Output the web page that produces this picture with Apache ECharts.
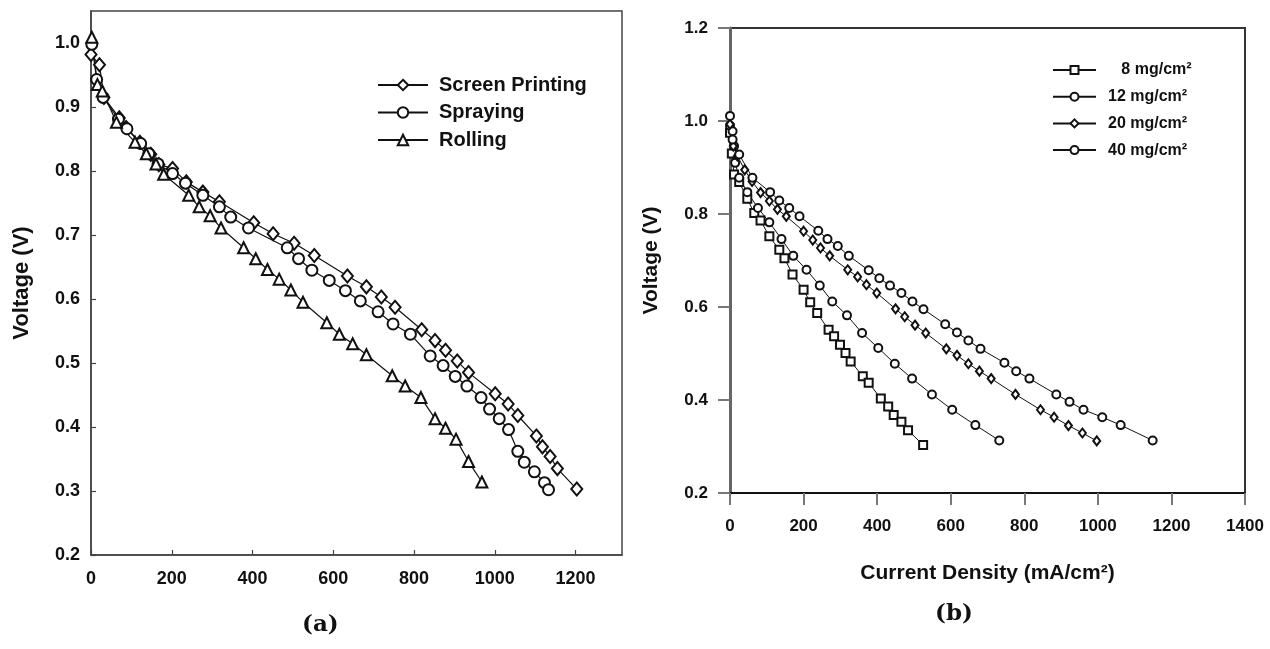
<!DOCTYPE html>
<html>
<head>
<meta charset="utf-8">
<script src="https://cdn.jsdelivr.net/npm/echarts/dist/echarts.min.js"></script>
<style>
html,body{margin:0;padding:0;background:#fff;}
#chart{width:1270px;height:649px;}
</style>
</head>
<body>
<div id="chart"></div>
<script>
// ---------- Data (a): deposition method ----------
const namesA = ['Screen Printing', 'Spraying', 'Rolling'];
const screenPrinting = [[0,0.982],[21,0.966],[32,0.915],[70,0.883],[87,0.868],[121,0.845],[148,0.826],[168,0.810],[202,0.804],[236,0.783],[277,0.767],[318,0.752],[403,0.719],[451,0.702],[503,0.687],[553,0.668],[635,0.636],[682,0.619],[719,0.603],[753,0.587],[819,0.552],[852,0.535],[878,0.520],[907,0.503],[935,0.485],[1001,0.452],[1033,0.436],[1057,0.418],[1103,0.386],[1118,0.369],[1137,0.354],[1155,0.335],[1203,0.303]];
const spraying = [[2,0.998],[14,0.943],[30,0.915],[68,0.881],[89,0.866],[123,0.843],[143,0.827],[166,0.811],[202,0.796],[234,0.781],[277,0.762],[318,0.744],[346,0.728],[390,0.711],[486,0.680],[514,0.663],[547,0.645],[590,0.629],[630,0.613],[667,0.597],[711,0.580],[748,0.561],[791,0.545],[840,0.511],[872,0.496],[902,0.479],[931,0.464],[966,0.446],[987,0.428],[1011,0.413],[1034,0.396],[1057,0.362],[1073,0.345],[1098,0.330],[1123,0.313],[1133,0.302]];
const rolling = [[2,1.009],[16,0.935],[28,0.925],[63,0.876],[109,0.845],[137,0.827],[161,0.811],[180,0.795],[242,0.762],[268,0.744],[295,0.730],[322,0.711],[378,0.680],[408,0.663],[437,0.646],[466,0.631],[495,0.614],[525,0.595],[584,0.563],[615,0.545],[648,0.530],[682,0.513],[746,0.480],[778,0.464],[817,0.446],[852,0.413],[878,0.398],[904,0.381],[935,0.346],[968,0.314]];

// ---------- Data (b): catalyst loading ----------
const namesB = ['8 mg/cm\u00B2', '12 mg/cm\u00B2', '20 mg/cm\u00B2', '40 mg/cm\u00B2'];
const load8 = [[0,0.975],[5,0.930],[11,0.885],[25,0.869],[47,0.833],[66,0.802],[83,0.786],[107,0.752],[134,0.723],[148,0.705],[170,0.670],[200,0.637],[218,0.610],[237,0.587],[268,0.551],[283,0.537],[299,0.519],[314,0.501],[328,0.483],[361,0.451],[377,0.437],[410,0.403],[430,0.386],[445,0.368],[466,0.353],[484,0.335],[525,0.303]];
const load12 = [[0,0.990],[7,0.978],[11,0.946],[14,0.910],[25,0.878],[47,0.847],[76,0.813],[107,0.782],[140,0.746],[172,0.710],[208,0.680],[244,0.646],[278,0.612],[318,0.582],[359,0.544],[403,0.512],[448,0.478],[495,0.446],[549,0.412],[604,0.379],[667,0.346],[732,0.313]];
const load20 = [[0,0.993],[9,0.946],[20,0.925],[40,0.895],[60,0.870],[83,0.846],[107,0.828],[129,0.810],[153,0.795],[200,0.763],[225,0.744],[246,0.727],[271,0.710],[320,0.680],[347,0.665],[371,0.648],[399,0.630],[450,0.596],[475,0.579],[503,0.561],[532,0.544],[588,0.510],[617,0.496],[648,0.478],[678,0.462],[710,0.446],[776,0.412],[844,0.379],[881,0.363],[920,0.345],[958,0.329],[997,0.312]];
const load40 = [[0,1.011],[7,0.960],[25,0.928],[61,0.878],[109,0.847],[134,0.829],[161,0.813],[189,0.795],[240,0.764],[265,0.746],[293,0.731],[323,0.710],[377,0.679],[406,0.662],[435,0.646],[466,0.630],[496,0.612],[526,0.595],[585,0.563],[617,0.545],[648,0.528],[681,0.510],[746,0.480],[778,0.462],[814,0.446],[887,0.412],[923,0.396],[961,0.379],[1012,0.363],[1062,0.346],[1149,0.313]];

const xTitleB = 'Current Density (mA/cm\u00B2)';
const yTitle = 'Voltage (V)';

const FONT = 'Liberation Sans, Arial, sans-serif';
const INK = '#111';

function mkSeries(name, data, symbol, size, xi, yi, lw) {
  return {
    type: 'line', name: name, data: data, xAxisIndex: xi, yAxisIndex: yi,
    symbol: symbol, symbolSize: size, showSymbol: true,
    lineStyle: { color: INK, width: lw },
    itemStyle: { color: INK, borderColor: INK, borderWidth: 1.2 },
    animation: false, z: 3
  };
}

const chart = echarts.init(document.getElementById('chart'), null, { renderer: 'canvas' });

const option = {
  backgroundColor: '#fff',
  animation: false,
  grid: [
    { left: 91, top: 11, width: 531, height: 544, show: true, borderColor: '#444', borderWidth: 1.5, backgroundColor: 'transparent' },
    { left: 730, top: 28, width: 515, height: 465, show: true, borderColor: '#333', borderWidth: 2, backgroundColor: 'transparent' }
  ],
  xAxis: [
    {
      gridIndex: 0, type: 'value', min: 0, max: 1315, interval: 200,
      axisLine: { show: true, lineStyle: { color: '#444', width: 1.5 } },
      axisTick: { show: true, inside: true, length: 5, lineStyle: { color: '#444', width: 1.2 } },
      axisLabel: { margin: 15, color: INK, fontFamily: FONT, fontWeight: 'bold', fontSize: 18, showMaxLabel: false,
                   formatter: v => String(v) },
      splitLine: { show: false }
    },
    {
      gridIndex: 1, type: 'value', min: 0, max: 1400, interval: 200,
      name: xTitleB, nameLocation: 'middle', nameGap: 70,
      nameTextStyle: { color: INK, fontFamily: FONT, fontWeight: 'bold', fontSize: 21 },
      axisLine: { show: true, lineStyle: { color: '#111', width: 2 } },
      axisTick: { show: true, inside: false, length: 12, lineStyle: { color: '#777', width: 2 } },
      axisLabel: { margin: 25, color: INK, fontFamily: FONT, fontWeight: 'bold', fontSize: 17,
                   formatter: v => String(v) },
      splitLine: { show: false }
    }
  ],
  yAxis: [
    {
      gridIndex: 0, type: 'value', min: 0.2, max: 1.05, interval: 0.1,
      name: yTitle, nameLocation: 'middle', nameGap: 58, nameRotate: 90,
      nameTextStyle: { color: INK, fontFamily: FONT, fontWeight: 'bold', fontSize: 22 },
      axisLine: { show: true, lineStyle: { color: '#444', width: 1.5 } },
      axisTick: { show: true, inside: true, length: 5, lineStyle: { color: '#444', width: 1.2 } },
      axisLabel: { margin: 11, color: INK, fontFamily: FONT, fontWeight: 'bold', fontSize: 18, showMaxLabel: false,
                   formatter: v => v.toFixed(1) },
      splitLine: { show: false }
    },
    {
      gridIndex: 1, type: 'value', min: 0.2, max: 1.2, interval: 0.2,
      name: yTitle, nameLocation: 'middle', nameGap: 68, nameRotate: 90,
      nameTextStyle: { color: INK, fontFamily: FONT, fontWeight: 'bold', fontSize: 21 },
      axisLine: { show: true, lineStyle: { color: '#666', width: 3 } },
      axisTick: { show: true, inside: false, length: 12, lineStyle: { color: '#777', width: 2 } },
      axisLabel: { margin: 22, color: INK, fontFamily: FONT, fontWeight: 'bold', fontSize: 17,
                   formatter: v => v.toFixed(1) },
      splitLine: { show: false }
    }
  ],
  legend: [
    {
      data: namesA, orient: 'vertical', left: 372, top: 70,
      itemWidth: 50, itemHeight: 13, itemGap: 7.5,
      textStyle: { color: INK, fontFamily: FONT, fontWeight: 'bold', fontSize: 20, lineHeight: 20, padding: [0, 0, 0, 6] },
      selectedMode: false
    },
    {
      data: namesB, orient: 'vertical', left: 1047, top: 57,
      itemWidth: 43, itemHeight: 10, itemGap: 10.7,
      formatter: n => n.startsWith('8 ') ? '   ' + n : n,
      textStyle: { color: INK, fontFamily: FONT, fontWeight: 'bold', fontSize: 16, lineHeight: 16, padding: [0, 0, 0, 7] },
      selectedMode: false
    }
  ],
  graphic: [
    { type: 'text', left: 302, top: 614, style: { text: '(a)', font: 'bold 23px "DejaVu Serif", serif', fill: INK } },
    { type: 'text', left: 935, top: 603, style: { text: '(b)', font: 'bold 23px "DejaVu Serif", serif', fill: INK } }
  ],
  series: [
    mkSeries(namesA[0], screenPrinting, 'emptyDiamond', [11, 13], 0, 0, 1.2),
    mkSeries(namesA[1], spraying, 'emptyCircle', 11, 0, 0, 1.2),
    mkSeries(namesA[2], rolling, 'emptyTriangle', 11, 0, 0, 1.2),
    mkSeries(namesB[0], load8, 'emptyRect', 8, 1, 1, 1),
    mkSeries(namesB[1], load12, 'emptyCircle', 8, 1, 1, 1),
    mkSeries(namesB[2], load20, 'emptyDiamond', [7, 9], 1, 1, 1),
    mkSeries(namesB[3], load40, 'emptyCircle', 8, 1, 1, 1)
  ]
};
chart.setOption(option);
</script>
</body>
</html>
